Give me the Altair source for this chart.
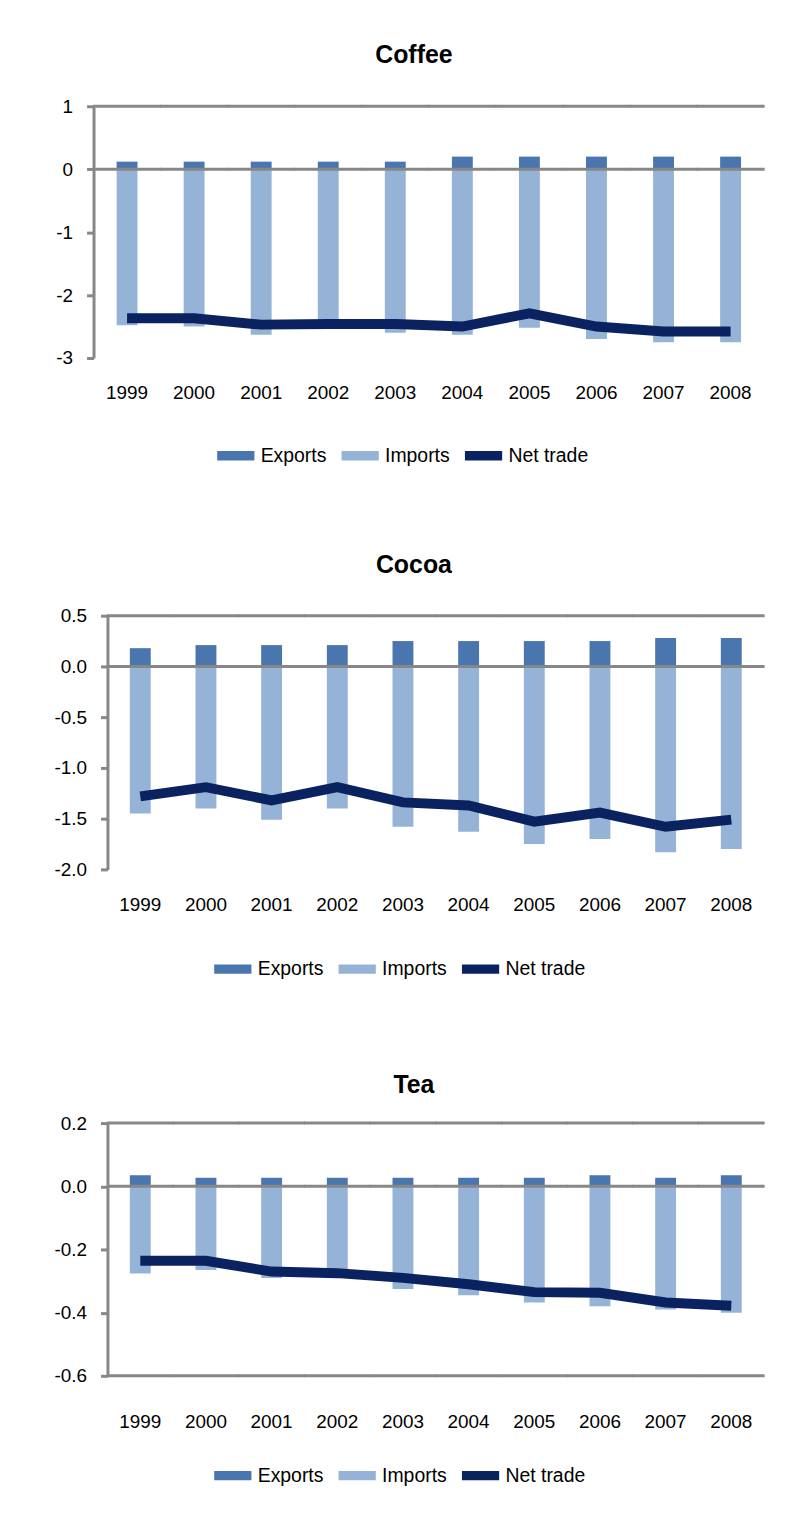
import altair as alt
import pandas as pd

years = [str(y) for y in range(1999, 2009)]
series = ["Exports", "Imports", "Net trade"]
colors = ["#4a76b0", "#95b3d7", "#0b2260"]
GREY = "#878787"

coffee_exports = [0.12, 0.12, 0.12, 0.12, 0.12, 0.20, 0.20, 0.20, 0.20, 0.20]
coffee_imports = [-2.48, -2.50, -2.63, -2.53, -2.60, -2.63, -2.52, -2.70, -2.75, -2.75]
coffee_net = [-2.37, -2.37, -2.47, -2.46, -2.46, -2.50, -2.29, -2.50, -2.58, -2.58]

cocoa_exports = [0.18, 0.21, 0.21, 0.21, 0.25, 0.25, 0.25, 0.25, 0.28, 0.28]
cocoa_imports = [-1.45, -1.40, -1.51, -1.40, -1.58, -1.63, -1.75, -1.70, -1.83, -1.80]
cocoa_net = [-1.28, -1.19, -1.32, -1.19, -1.34, -1.37, -1.53, -1.44, -1.58, -1.51]

tea_exports = [0.035, 0.027, 0.027, 0.027, 0.027, 0.027, 0.027, 0.035, 0.027, 0.035]
tea_imports = [-0.276, -0.265, -0.29, -0.29, -0.325, -0.345, -0.368, -0.38, -0.39, -0.40]
tea_net = [-0.236, -0.236, -0.27, -0.275, -0.29, -0.31, -0.335, -0.337, -0.368, -0.378]

coffee_ticks = [1, 0, -1, -2, -3]
cocoa_ticks = [0.5, 0.0, -0.5, -1.0, -1.5, -2.0]
tea_ticks = [0.2, 0.0, -0.2, -0.4, -0.6]

coffee_rules = [1, 0]
cocoa_rules = [0.5, 0]
tea_rules = [0.2, 0, -0.6]


def panel(title, exp, imp, net, ticks, fmt, rule_vals, width, height, xpad, lx, ly,
          shift=0, title_offset=29, bottom_space=None):
    bars_df = pd.DataFrame({
        "year": years * 2,
        "series": ["Exports"] * len(years) + ["Imports"] * len(years),
        "value": exp + imp,
    })
    net_df = pd.DataFrame({"year": years, "series": "Net trade", "value": net})
    rules_df = pd.DataFrame(
        [{"year": y, "v": v} for v in rule_vals for y in years]
    )
    band = (width + shift) / len(years)

    xscale = alt.Scale(domain=years, paddingInner=0, paddingOuter=0,
                       range=[-shift, width])
    xaxis_kw = dict(title=None, labelAngle=0, domain=False, ticks=False, tickSize=0,
                    labelPadding=xpad, labelFontSize=19, labelColor="black")
    if bottom_space is not None:
        xaxis_kw.update(title=" ", titleFontSize=10, titlePadding=bottom_space)
    xenc = alt.X("year:N", sort=years, scale=xscale, axis=alt.Axis(**xaxis_kw))
    yscale = alt.Scale(domain=[min(ticks), max(ticks)], nice=False, zero=False)
    yaxis = alt.Axis(
        title=None, values=ticks, format=fmt, grid=False, offset=shift,
        labelExpr="replace(datum.label, '\u2212', '-')",
        domainColor=GREY, domainWidth=3, tickColor=GREY, tickWidth=3, tickSize=7,
        labelPadding=14, labelFontSize=19, labelColor="black",
    )
    color = alt.Color(
        "series:N",
        scale=alt.Scale(domain=series, range=colors),
        legend=alt.Legend(
            title=None, orient="none", legendX=lx, legendY=ly, direction="horizontal",
            labelFontSize=19.5, labelColor="black", symbolType="M-1,-0.25H1V0.25H-1Z",
            symbolSize=1400, symbolStrokeWidth=0, labelOffset=6, columnPadding=14, padding=0,
        ),
    )
    bars = alt.Chart(bars_df).mark_bar(size=21).encode(
        x=xenc, y=alt.Y("value:Q", scale=yscale, axis=yaxis), color=color
    )
    rules = alt.Chart(rules_df).mark_tick(color=GREY, thickness=3, size=band + 1,
                                          opacity=1).encode(
        x=alt.X("year:N", sort=years, scale=xscale), y=alt.Y("v:Q", scale=yscale)
    )
    line = alt.Chart(net_df).mark_line(strokeWidth=10).encode(
        x=xenc, y=alt.Y("value:Q", scale=yscale), color=color
    )
    return alt.layer(bars, rules, line).properties(
        width=width, height=height,
        title=alt.Title(title, fontSize=25, fontWeight="bold", offset=title_offset,
                        color="black", dx=-22),
    )


coffee = panel("Coffee", coffee_exports, coffee_imports, coffee_net, coffee_ticks, "d",
               coffee_rules, 660, 253, 26, 110, 332, shift=14)
cocoa = panel("Cocoa", cocoa_exports, cocoa_imports, cocoa_net, cocoa_ticks, ".1f",
              cocoa_rules, 660, 255, 26, 107, 336, bottom_space=62)
tea = panel("Tea", tea_exports, tea_imports, tea_net, tea_ticks, ".1f",
            tea_rules, 660, 254, 37, 107, 335, title_offset=16)

chart = (
    alt.concat(coffee, cocoa, tea, columns=1, spacing=88)
    .properties(padding={"left": 54, "top": 40, "right": 10, "bottom": 10})
    .resolve_scale(color="independent", x="independent", y="independent")
    .resolve_legend(color="independent")
    .configure(font="Liberation Sans")
    .configure_view(stroke=None)
)

chart.save("out.html", embed_options={"renderer": "svg", "actions": False})
